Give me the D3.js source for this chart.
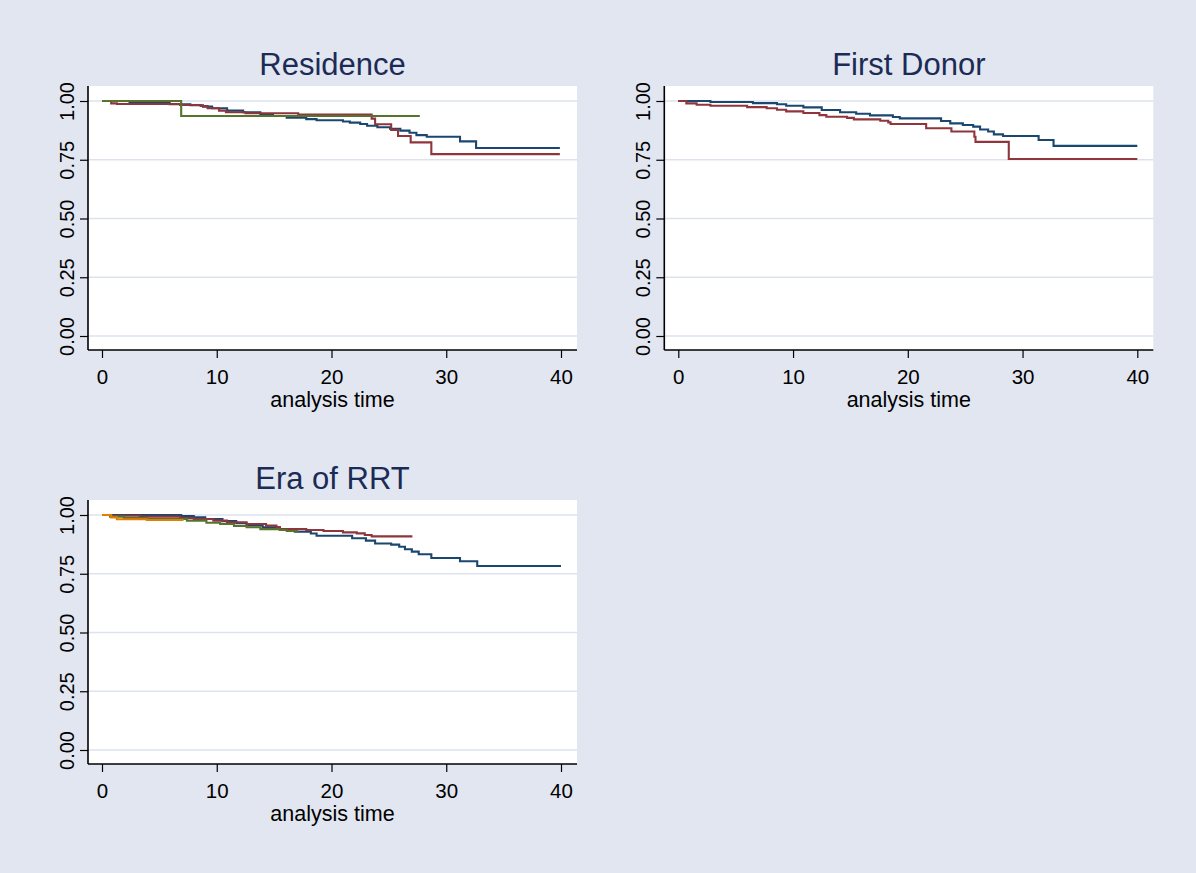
<!DOCTYPE html>
<html>
<head>
<meta charset="utf-8">
<script src="https://cdn.jsdelivr.net/npm/d3@7"></script>
<style>
  html, body { margin: 0; padding: 0; background: #e1e6f0; }
  svg { display: block; }
  text { font-family: "Liberation Sans", Arial, Helvetica, sans-serif; }
</style>
</head>
<body>
<svg id="chart" width="1196" height="873"></svg>
<script>
// Kaplan-Meier survival estimates: [analysis time, survival], each step starts at the given time;
// the last pair marks the end of follow-up for that group.

// Residence
const residenceGroup1 = [[0,1],[2.4,0.993],[5.9,0.986],[7.7,0.982],[8.8,0.976],[9.6,0.969],[10.9,0.959],[12.3,0.952],[13.8,0.943],[14.9,0.936],[16.1,0.929],[17.8,0.923],[18.7,0.918],[21.0,0.913],[21.6,0.908],[22.5,0.902],[23.1,0.895],[24.0,0.888],[25.1,0.882],[26.0,0.874],[26.8,0.865],[27.4,0.855],[28.3,0.848],[31.2,0.828],[32.6,0.800],[39.9,0.800]];
const residenceGroup2 = [[0,1],[0.8,0.990],[1.3,0.987],[6.8,0.983],[8.6,0.979],[9.2,0.969],[10.2,0.959],[10.8,0.952],[12.5,0.948],[17.1,0.942],[23.5,0.925],[23.8,0.901],[25.2,0.877],[25.8,0.851],[26.9,0.824],[28.7,0.774],[39.9,0.774]];
const residenceGroup3 = [[0,1],[6.9,0.936],[27.7,0.936]];

// First Donor
const donorGroup1 = [[0,1],[2.8,0.996],[6.5,0.991],[8.6,0.986],[9.4,0.980],[10.9,0.973],[12.5,0.962],[14.1,0.952],[15.5,0.946],[16.7,0.939],[18.7,0.932],[19.3,0.926],[22.9,0.915],[23.7,0.905],[24.8,0.898],[25.7,0.891],[26.3,0.879],[27.0,0.870],[27.5,0.858],[28.3,0.851],[31.4,0.834],[32.7,0.809],[40.0,0.809]];
const donorGroup2 = [[0,1],[0.7,0.990],[1.6,0.984],[2.8,0.980],[6.0,0.974],[7.7,0.969],[8.6,0.963],[9.4,0.956],[10.9,0.949],[12.3,0.940],[12.9,0.933],[14.7,0.928],[15.3,0.922],[17.6,0.916],[18.3,0.909],[18.5,0.902],[21.6,0.884],[23.8,0.870],[25.8,0.848],[25.9,0.826],[28.8,0.753],[40.0,0.753]];

// Era of RRT
const eraGroup1 = [[0,1],[6.9,0.996],[8.0,0.990],[9.0,0.983],[10.5,0.974],[11.7,0.965],[12.6,0.956],[14.0,0.948],[15.5,0.939],[16.8,0.929],[18.2,0.921],[18.7,0.912],[21.8,0.901],[23.0,0.891],[23.8,0.879],[25.2,0.874],[25.9,0.865],[26.4,0.854],[27.0,0.844],[27.6,0.833],[28.7,0.817],[31.2,0.803],[32.7,0.783],[40.0,0.783]];
const eraGroup2 = [[0,1],[0.7,0.997],[3.3,0.993],[6.8,0.987],[8.0,0.983],[9.7,0.976],[10.9,0.969],[12.6,0.962],[14.3,0.955],[15.2,0.948],[15.5,0.940],[17.8,0.936],[19.3,0.932],[21.0,0.926],[22.2,0.922],[22.9,0.915],[23.5,0.909],[27.05,0.909]];
const eraGroup3 = [[0,1],[0.7,0.993],[1.9,0.987],[3.9,0.983],[7.4,0.976],[9.1,0.967],[10.3,0.962],[11.5,0.953],[12.6,0.948],[13.8,0.940],[15.5,0.936],[16.1,0.932],[17.1,0.932]];
const eraGroup4 = [[0,1],[0.8,0.990],[1.3,0.982],[3.9,0.979],[7.1,0.979]];

// Axis ticks and labels
const timeTicks = [0, 10, 20, 30, 40];
const survivalTicks = [0, 0.25, 0.5, 0.75, 1];
const panelTitles = ["Residence", "First Donor", "Era of RRT"];
const xAxisTitle = "analysis time";

// Stata s2color palette: navy, maroon, forest green, dark orange
const groupColors = ["#1a476f", "#90353b", "#55752f", "#e37e00"];

const panels = [
  { title: panelTitles[0], series: [residenceGroup1, residenceGroup2, residenceGroup3], left: 88, top: 86 },
  { title: panelTitles[1], series: [donorGroup1, donorGroup2], left: 664.3, top: 86 },
  { title: panelTitles[2], series: [eraGroup1, eraGroup2, eraGroup3, eraGroup4], left: 88, top: 500 }
];

const plotW = 489, plotH = 264;
const bg = "#e1e6f0";

const svg = d3.select("#chart");
svg.append("rect").attr("width", 1196).attr("height", 873).attr("fill", bg);

// x: 0..40 sits 14px inside the plot region on each side; y: 1.00 sits 15px below the top
const x = d3.scaleLinear().domain([0, 40]).range([14, 473]);
const y = d3.scaleLinear().domain([0, 1]).range([250, 15]);

const line = d3.line()
  .x(d => x(d[0]))
  .y(d => y(d[1]))
  .curve(d3.curveStepAfter);

panels.forEach(p => {
  const g = svg.append("g").attr("transform", `translate(${p.left},${p.top})`);

  // plot region
  g.append("rect").attr("width", plotW).attr("height", plotH).attr("fill", "#ffffff");

  // horizontal grid lines
  g.selectAll("line.grid").data(survivalTicks).join("line")
    .attr("class", "grid")
    .attr("x1", 0).attr("x2", plotW)
    .attr("y1", d => y(d)).attr("y2", d => y(d))
    .attr("stroke", "#dde3ee").attr("stroke-width", 1.6);

  // survival curves
  p.series.forEach((s, i) => {
    g.append("path").datum(s)
      .attr("d", line)
      .attr("fill", "none")
      .attr("stroke", groupColors[i])
      .attr("stroke-width", 2.1)
      .attr("stroke-linejoin", "miter");
  });

  // x axis
  const xa = g.append("g").attr("transform", `translate(0,${plotH})`)
    .call(d3.axisBottom(x).tickValues(timeTicks).tickSize(8).tickPadding(11).tickSizeOuter(0));
  xa.select(".domain").attr("d", `M0,0H${plotW}`).attr("stroke", "#000").attr("stroke-width", 1.6);
  xa.selectAll(".tick line").attr("stroke", "#000").attr("stroke-width", 1.2);
  xa.selectAll(".tick text").attr("font-size", 20.5).attr("fill", "#000")
    .attr("font-family", "'Liberation Sans', Arial, sans-serif");

  // y axis with vertical tick labels
  const ya = g.append("g")
    .call(d3.axisLeft(y).tickValues(survivalTicks).tickSize(8).tickFormat(d3.format(".2f")).tickSizeOuter(0));
  ya.select(".domain").attr("d", `M0,0V${plotH}`).attr("stroke", "#000").attr("stroke-width", 1.6);
  ya.selectAll(".tick line").attr("stroke", "#000").attr("stroke-width", 1.2);
  ya.selectAll(".tick text")
    .attr("x", null).attr("dy", null)
    .attr("text-anchor", "middle")
    .attr("transform", "translate(-14.5,0) rotate(-90)")
    .attr("font-size", 20).attr("fill", "#000")
    .attr("font-family", "'Liberation Sans', Arial, sans-serif");

  // x axis title
  g.append("text")
    .attr("x", plotW / 2).attr("y", plotH + 56.5)
    .attr("text-anchor", "middle")
    .attr("font-size", 21.5).attr("fill", "#000")
    .text(xAxisTitle);

  // panel title
  g.append("text")
    .attr("x", plotW / 2).attr("y", -11.5)
    .attr("text-anchor", "middle")
    .attr("font-size", 31).attr("fill", "#1c2b55")
    .text(p.title);
});
</script>
</body>
</html>
